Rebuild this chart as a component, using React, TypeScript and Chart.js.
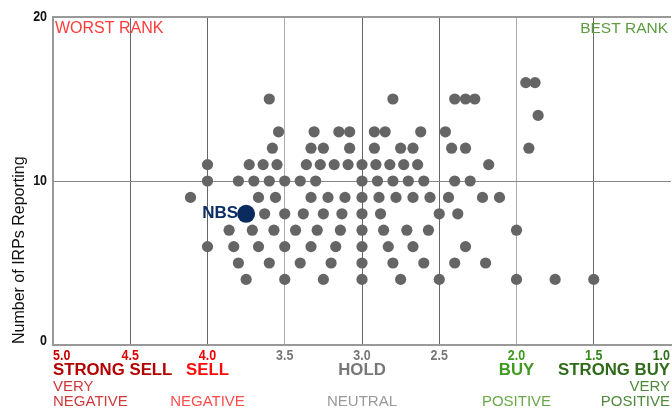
import React, { useEffect, useRef } from "react";
import { Chart, registerables } from "chart.js";

Chart.register(...registerables);

// Peer institutions: average rating (x) for each count of IRPs reporting (row)
const irps16 = [1.94, 1.88];
const irps15 = [3.6, 2.8, 2.4, 2.33, 2.27];
const irps14 = [1.86];
const irps13 = [3.54, 3.31, 3.15, 3.08, 2.92, 2.85, 2.62, 2.46];
const irps12 = [3.58, 3.33, 3.25, 3.08, 2.92, 2.75, 2.67, 2.42, 2.33, 1.92];
const irps11 = [4.0, 3.73, 3.64, 3.55, 3.36, 3.27, 3.18, 3.09, 3.0, 2.91, 2.82, 2.73, 2.64, 2.18];
const irps10 = [4.0, 3.8, 3.7, 3.6, 3.5, 3.4, 3.3, 3.0, 2.9, 2.8, 2.7, 2.6, 2.4, 2.3];
const irps9 = [4.11, 3.67, 3.56, 3.33, 3.22, 3.11, 3.0, 2.89, 2.78, 2.67, 2.56, 2.44, 2.22, 2.11];
const irps8 = [3.63, 3.5, 3.38, 3.25, 3.13, 3.0, 2.88, 2.5, 2.38];
const irps7 = [3.86, 3.71, 3.57, 3.43, 3.29, 3.14, 3.0, 2.86, 2.71, 2.57, 2.0];
const irps6 = [4.0, 3.83, 3.67, 3.5, 3.33, 3.17, 3.0, 2.83, 2.67, 2.33];
const irps5 = [3.8, 3.6, 3.4, 3.2, 3.0, 2.8, 2.6, 2.4, 2.2];
const irps4 = [3.75, 3.5, 3.25, 3.0, 2.75, 2.5, 2.0, 1.75, 1.5];

const rowCounts = [16, 15, 14, 13, 12, 11, 10, 9, 8, 7, 6, 5, 4];
const rowRatings = [irps16, irps15, irps14, irps13, irps12, irps11, irps10, irps9, irps8, irps7, irps6, irps5, irps4];

// Highlighted institution
const focusName = "NBS";
const focusRating = 3.75;
const focusCount = 8;

// Axis labels
const xTickValues = [5.0, 4.5, 4.0, 3.5, 3.0, 2.5, 2.0, 1.5, 1.0];
const xTickLabels = ["5.0", "4.5", "4.0", "3.5", "3.0", "2.5", "2.0", "1.5", "1.0"];
const xTickColors = ["#c40000", "#dd0000", "#f20000", "#777777", "#777777", "#777777", "#3d9a1e", "#35841c", "#2e6e18"];
const yTickValues = [0, 10, 20];
const yTickLabels = ["0", "10", "20"];
const ratingValues = [5, 4, 3, 2, 1];
const ratingLabels = ["STRONG SELL", "SELL", "HOLD", "BUY", "STRONG BUY"];
const ratingColors = ["#b30000", "#ff0a0a", "#777777", "#3f9a1f", "#2f6b1a"];
const sentimentTop = ["VERY", "", "", "", "VERY"];
const sentimentBottom = ["NEGATIVE", "NEGATIVE", "NEUTRAL", "POSITIVE", "POSITIVE"];
const sentimentColors = ["#cf3b3b", "#ff4d4d", "#999999", "#6aa84a", "#4f8a3c"];
const yTitle = "Number of IRPs Reporting";
const worstLabel = "WORST RANK";
const bestLabel = "BEST RANK";

const FONT = '"Liberation Sans", Arial, sans-serif';

function drawText(
  ctx: CanvasRenderingContext2D,
  text: string,
  x: number,
  y: number,
  align: CanvasTextAlign,
  font: string,
  color: string,
  sx = 1
) {
  ctx.save();
  ctx.font = font;
  ctx.fillStyle = color;
  ctx.textBaseline = "middle";
  ctx.textAlign = align;
  ctx.translate(x, y);
  ctx.scale(sx, 1);
  ctx.fillText(text, 0, 0);
  ctx.restore();
}

const labelsPlugin = {
  id: "rankLabels",
  afterDraw(chart: any) {
    const ctx = chart.ctx as CanvasRenderingContext2D;
    const xs = chart.scales.x;
    const ys = chart.scales.y;
    const area = chart.chartArea;
    const alignFor = (v: number): CanvasTextAlign => (v === 5 ? "left" : v === 1 ? "right" : "center");
    const xFor = (v: number) => {
      const p = xs.getPixelForValue(v);
      return v === 5 ? p : v === 1 ? p - 1 : p;
    };

    // corner labels
    drawText(ctx, worstLabel, area.left + 2, area.top + 12, "left", `16px ${FONT}`, "#ff3b3b");
    drawText(ctx, bestLabel, area.right - 3, area.top + 12, "right", `15.5px ${FONT}`, "#5e9a40");

    // x tick numbers
    xTickValues.forEach((v, i) => {
      drawText(ctx, xTickLabels[i], xFor(v), area.bottom + 11, alignFor(v), `bold 15px ${FONT}`, xTickColors[i], 0.83);
    });
    // rating names
    ratingValues.forEach((v, i) => {
      drawText(ctx, ratingLabels[i], xFor(v), area.bottom + 25, alignFor(v), `bold 16.8px ${FONT}`, ratingColors[i]);
      if (sentimentTop[i]) {
        drawText(ctx, sentimentTop[i], xFor(v), area.bottom + 42, alignFor(v), `15px ${FONT}`, sentimentColors[i]);
      }
      drawText(ctx, sentimentBottom[i], xFor(v), area.bottom + 57, alignFor(v), `15px ${FONT}`, sentimentColors[i]);
    });

    // y ticks
    yTickValues.forEach((v, i) => {
      const py = ys.getPixelForValue(v) + (v === 0 ? -4 : 0);
      drawText(ctx, yTickLabels[i], area.left - 6, py, "right", `bold 14.5px ${FONT}`, "#111111", 0.86);
    });

    // y title
    ctx.save();
    ctx.font = `16px ${FONT}`;
    ctx.fillStyle = "#111111";
    ctx.textAlign = "left";
    ctx.textBaseline = "alphabetic";
    ctx.translate(24, area.bottom - 1);
    ctx.rotate(-Math.PI / 2);
    ctx.fillText(yTitle, 0, 0);
    ctx.restore();

    // focus label
    const fx = xs.getPixelForValue(focusRating);
    const fy = ys.getPixelForValue(focusCount);
    drawText(ctx, focusName, fx - 8, fy, "right", `bold 17px ${FONT}`, "#0c2d66");
  },
};

export default function App() {
  const ref = useRef<HTMLCanvasElement | null>(null);

  useEffect(() => {
    if (!ref.current) return;
    const peerPoints: { x: number; y: number }[] = [];
    rowRatings.forEach((arr, i) => arr.forEach((r) => peerPoints.push({ x: r, y: rowCounts[i] })));

    const chart = new Chart(ref.current, {
      type: "scatter",
      data: {
        datasets: [
          {
            label: focusName,
            data: [{ x: focusRating, y: focusCount }],
            pointRadius: 9,
            pointHoverRadius: 9,
            backgroundColor: "#0b2a5e",
            borderWidth: 0,
            order: 0,
          },
          {
            label: "Peers",
            data: peerPoints,
            pointRadius: 5.6,
            pointHoverRadius: 5.6,
            backgroundColor: "#656565",
            borderWidth: 0,
            order: 1,
          },
        ],
      },
      options: {
        responsive: false,
        animation: false,
        layout: { autoPadding: false, padding: { left: 53, top: 17, right: 1, bottom: 75 } },
        plugins: { legend: { display: false }, tooltip: { enabled: false } },
        scales: {
          x: {
            type: "linear",
            reverse: true,
            min: 1,
            max: 5,
            ticks: { display: false, stepSize: 0.5 },
            grid: {
              drawTicks: false,
              color: (c: any) => {
                const v = c.tick ? c.tick.value : 0;
                if (v === 1) return "rgba(0,0,0,0)";
                if (v === 5) return "#999999";
                if (v === 3.5 || v === 2) return "#aaaaaa";
                return "#666666";
              },
              lineWidth: 1,
            },
            border: { display: true, color: "#999999", width: 2 },
            afterFit: (s: any) => {
              s.height = 0;
            },
          },
          y: {
            min: 0,
            max: 20,
            ticks: { display: false, stepSize: 10 },
            grid: {
              drawTicks: false,
              color: (c: any) => {
                const v = c.tick ? c.tick.value : 0;
                return v === 10 ? "#888888" : "#999999";
              },
              lineWidth: (c: any) => {
                const v = c.tick ? c.tick.value : 0;
                return v === 20 ? 2 : 1;
              },
            },
            border: { display: true, color: "#999999", width: 2 },
            afterFit: (s: any) => {
              s.width = 0;
            },
          },
        },
      },
      plugins: [labelsPlugin],
    });
    return () => chart.destroy();
  }, []);

  return (
    <div style={{ position: "fixed", left: 0, top: 0, width: 672, height: 420, background: "#ffffff" }}>
      <canvas ref={ref} width={672} height={420} style={{ display: "block", width: 672, height: 420 }} />
    </div>
  );
}
